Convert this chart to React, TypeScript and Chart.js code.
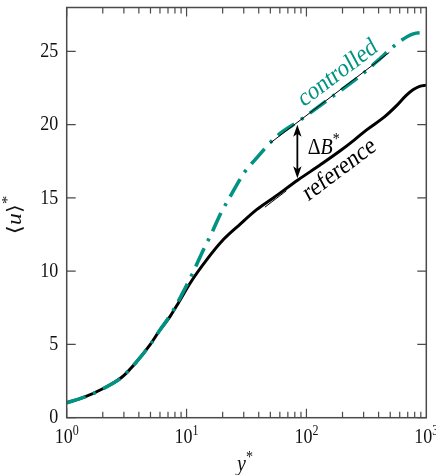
import React, { useEffect, useRef } from "react";
import { Chart, registerables } from "chart.js";

Chart.register(...registerables);

// ---- data ----
const refYPlus = [1, 1.4, 1.96, 2.88, 3.84, 4.95, 6.0, 7.27, 8.5, 10.7, 14.7, 20.2, 27.9, 38.4, 52.9, 85.5, 130, 190, 250, 318, 450, 565, 680, 780, 880, 1000];
const refU = [1.02, 1.4, 1.94, 2.76, 3.83, 4.97, 5.99, 6.9, 7.8, 9.18, 10.77, 12.14, 13.2, 14.2, 15.0, 16.24, 17.25, 18.2, 18.95, 19.65, 20.55, 21.3, 22.0, 22.4, 22.62, 22.7];

const ctrlYPlus = [1, 1.4, 1.96, 2.88, 3.84, 4.95, 6.0, 7.5, 9.1, 11.4, 13.4, 16.2, 19.6, 22.3, 30.7, 37.2, 56.4, 88.3, 157, 298, 385, 583, 778, 1000];
const ctrlU = [1.02, 1.4, 1.94, 2.76, 3.83, 4.97, 5.99, 7.13, 8.38, 9.97, 11.23, 12.6, 14.07, 14.87, 16.8, 17.6, 19.2, 20.3, 21.8, 23.5, 24.3, 25.6, 26.2, 26.3];

const ctrlLogYPlus = [49.7, 491];
const ctrlLogU = [18.74, 24.93];
const refLogYPlus = [45, 68];
const refLogU = [14.37, 15.49];

const arrowYPlus = 84;
const arrowFromU = 16.35;
const arrowToU = 20.0;

const xMajorTicks = [1, 10, 100, 1000];
const xTickExponents = ["0", "1", "2", "3"];
const yTicks = [0, 5, 10, 15, 20, 25];

const labelControlled = { x: 183, y: 23.5, text: "controlled" };
const labelReference = { x: 189, y: 16.92, text: "reference" };
const labelDeltaB = { x: 102.4, y: 18.01 };

const TEAL = "#009282";
const FRAME = "#4a4a4a";
const SERIF = '"Liberation Serif","Times New Roman","DejaVu Serif",serif';
const SY = 1.18;

type Run = { t: string; size: number; italic?: boolean; dy?: number };

function fontOf(r: Run) {
  return `${r.italic ? "italic " : ""}${r.size}px ${SERIF}`;
}

function drawRuns(
  ctx: CanvasRenderingContext2D,
  runs: Run[],
  x: number,
  y: number,
  align: "left" | "center" | "right",
  baseline: CanvasTextBaseline,
  rot = 0,
  color = "#111"
) {
  ctx.save();
  ctx.translate(x, y);
  ctx.scale(1, SY);
  if (rot) ctx.rotate(rot);
  let w = 0;
  for (const r of runs) {
    ctx.font = fontOf(r);
    w += ctx.measureText(r.t).width;
  }
  let cx = align === "left" ? 0 : align === "center" ? -w / 2 : -w;
  ctx.textBaseline = baseline;
  ctx.textAlign = "left";
  ctx.fillStyle = color;
  for (const r of runs) {
    ctx.font = fontOf(r);
    ctx.fillText(r.t, cx, -(r.dy || 0));
    cx += ctx.measureText(r.t).width;
  }
  ctx.restore();
}

function zip(xs: number[], ys: number[]) {
  return xs.map((x, i) => ({ x, y: ys[i] }));
}

const decorPlugin = {
  id: "decor",
  afterDraw(chart: any) {
    const ctx: CanvasRenderingContext2D = chart.ctx;
    const xs = chart.scales.x;
    const ys = chart.scales.y;
    const { left, right, top, bottom } = chart.chartArea;

    ctx.save();
    // frame
    ctx.strokeStyle = FRAME;
    ctx.lineWidth = 1.5;
    ctx.strokeRect(left, top, right - left, bottom - top);

    // ticks
    ctx.lineWidth = 1.2;
    ctx.beginPath();
    for (let d = 0; d < 3; d++) {
      for (let m = 1; m <= 9; m++) {
        const v = m * Math.pow(10, d);
        const px = xs.getPixelForValue(v);
        const len = m === 1 ? 9 : 6;
        ctx.moveTo(px, bottom);
        ctx.lineTo(px, bottom - len);
        ctx.moveTo(px, top);
        ctx.lineTo(px, top + len);
      }
    }
    for (const v of yTicks) {
      const py = ys.getPixelForValue(v);
      ctx.moveTo(left, py);
      ctx.lineTo(left + 9, py);
      ctx.moveTo(right, py);
      ctx.lineTo(right - 9, py);
    }
    ctx.stroke();

    // y tick labels
    for (const v of yTicks) {
      const py = ys.getPixelForValue(v);
      drawRuns(ctx, [{ t: String(v), size: 18 }], left - 8.5, py, "right", "middle");
    }
    // x tick labels
    xMajorTicks.forEach((v, i) => {
      const px = xs.getPixelForValue(v);
      drawRuns(
        ctx,
        [
          { t: "10", size: 18 },
          { t: xTickExponents[i], size: 12, dy: 7 },
        ],
        px,
        443,
        "center",
        "alphabetic"
      );
    });

    // axis titles
    drawRuns(
      ctx,
      [
        { t: "⟨", size: 20 },
        { t: "u", size: 20, italic: true },
        { t: "⟩", size: 20 },
        { t: "*", size: 14, dy: 8 },
      ],
      16,
      215,
      "center",
      "middle",
      -Math.PI / 2
    );
    drawRuns(
      ctx,
      [
        { t: "y", size: 20, italic: true },
        { t: "*", size: 14, dy: 8 },
      ],
      245,
      471,
      "center",
      "alphabetic"
    );

    // arrow
    const ax = xs.getPixelForValue(arrowYPlus);
    const yb = ys.getPixelForValue(arrowFromU);
    const yt = ys.getPixelForValue(arrowToU);
    ctx.strokeStyle = "#000";
    ctx.fillStyle = "#000";
    ctx.lineWidth = 1.8;
    ctx.beginPath();
    ctx.moveTo(ax, yt + 8);
    ctx.lineTo(ax, yb - 8);
    ctx.stroke();
    const head = (tipY: number, dir: number) => {
      ctx.beginPath();
      ctx.moveTo(ax, tipY);
      ctx.lineTo(ax - 4.2, tipY + dir * 12);
      ctx.lineTo(ax, tipY + dir * 9);
      ctx.lineTo(ax + 4.2, tipY + dir * 12);
      ctx.closePath();
      ctx.fill();
    };
    head(yt, 1);
    head(yb, -1);

    // labels
    drawRuns(
      ctx,
      [
        { t: "Δ", size: 20 },
        { t: "B", size: 20, italic: true },
        { t: "*", size: 14, dy: 8 },
      ],
      xs.getPixelForValue(labelDeltaB.x),
      ys.getPixelForValue(labelDeltaB.y),
      "left",
      "alphabetic",
      0,
      "#000"
    );
    const rot = -Math.atan(Math.tan((37 * Math.PI) / 180) / SY);
    drawRuns(
      ctx,
      [{ t: labelControlled.text, size: 22 }],
      xs.getPixelForValue(labelControlled.x),
      ys.getPixelForValue(labelControlled.y),
      "center",
      "middle",
      rot,
      TEAL
    );
    drawRuns(
      ctx,
      [{ t: labelReference.text, size: 22 }],
      xs.getPixelForValue(labelReference.x),
      ys.getPixelForValue(labelReference.y),
      "center",
      "middle",
      rot,
      "#000"
    );
    ctx.restore();
  },
};

export default function App() {
  const canvasRef = useRef<HTMLCanvasElement | null>(null);

  useEffect(() => {
    const canvas = canvasRef.current;
    if (!canvas) return;
    const chart = new Chart(canvas, {
      type: "line",
      data: {
        datasets: [
          {
            label: "controlled log",
            data: zip(ctrlLogYPlus, ctrlLogU),
            borderColor: "#000",
            borderWidth: 1,
            pointRadius: 0,
            fill: false,
            order: 0,
          },
          {
            label: "reference log",
            data: zip(refLogYPlus, refLogU),
            borderColor: "#000",
            borderWidth: 1,
            pointRadius: 0,
            fill: false,
            order: 0,
          },
          {
            label: "controlled",
            data: zip(ctrlYPlus, ctrlU),
            borderColor: TEAL,
            borderWidth: 3.6,
            borderDash: [20, 8, 3, 8],
            borderCapStyle: "butt",
            pointRadius: 0,
            fill: false,
            cubicInterpolationMode: "monotone",
            order: 1,
          },
          {
            label: "reference",
            data: zip(refYPlus, refU),
            borderColor: "#000",
            borderWidth: 3,
            pointRadius: 0,
            fill: false,
            cubicInterpolationMode: "monotone",
            order: 2,
          },
        ],
      } as any,
      options: {
        animation: false,
        responsive: false,
        maintainAspectRatio: false,
        layout: { padding: { left: 66.7, right: 9.7, top: 7.5, bottom: 57.3 } },
        plugins: { legend: { display: false }, tooltip: { enabled: false } },
        events: [],
        scales: {
          x: { type: "logarithmic", min: 1, max: 1000, display: false },
          y: { type: "linear", min: 0, max: 28, display: false },
        },
      } as any,
      plugins: [decorPlugin],
    });
    return () => chart.destroy();
  }, []);

  return (
    <div style={{ position: "fixed", left: 0, top: 0, width: 436, height: 475, background: "#fff" }}>
      <canvas ref={canvasRef} width={436} height={475} />
    </div>
  );
}
